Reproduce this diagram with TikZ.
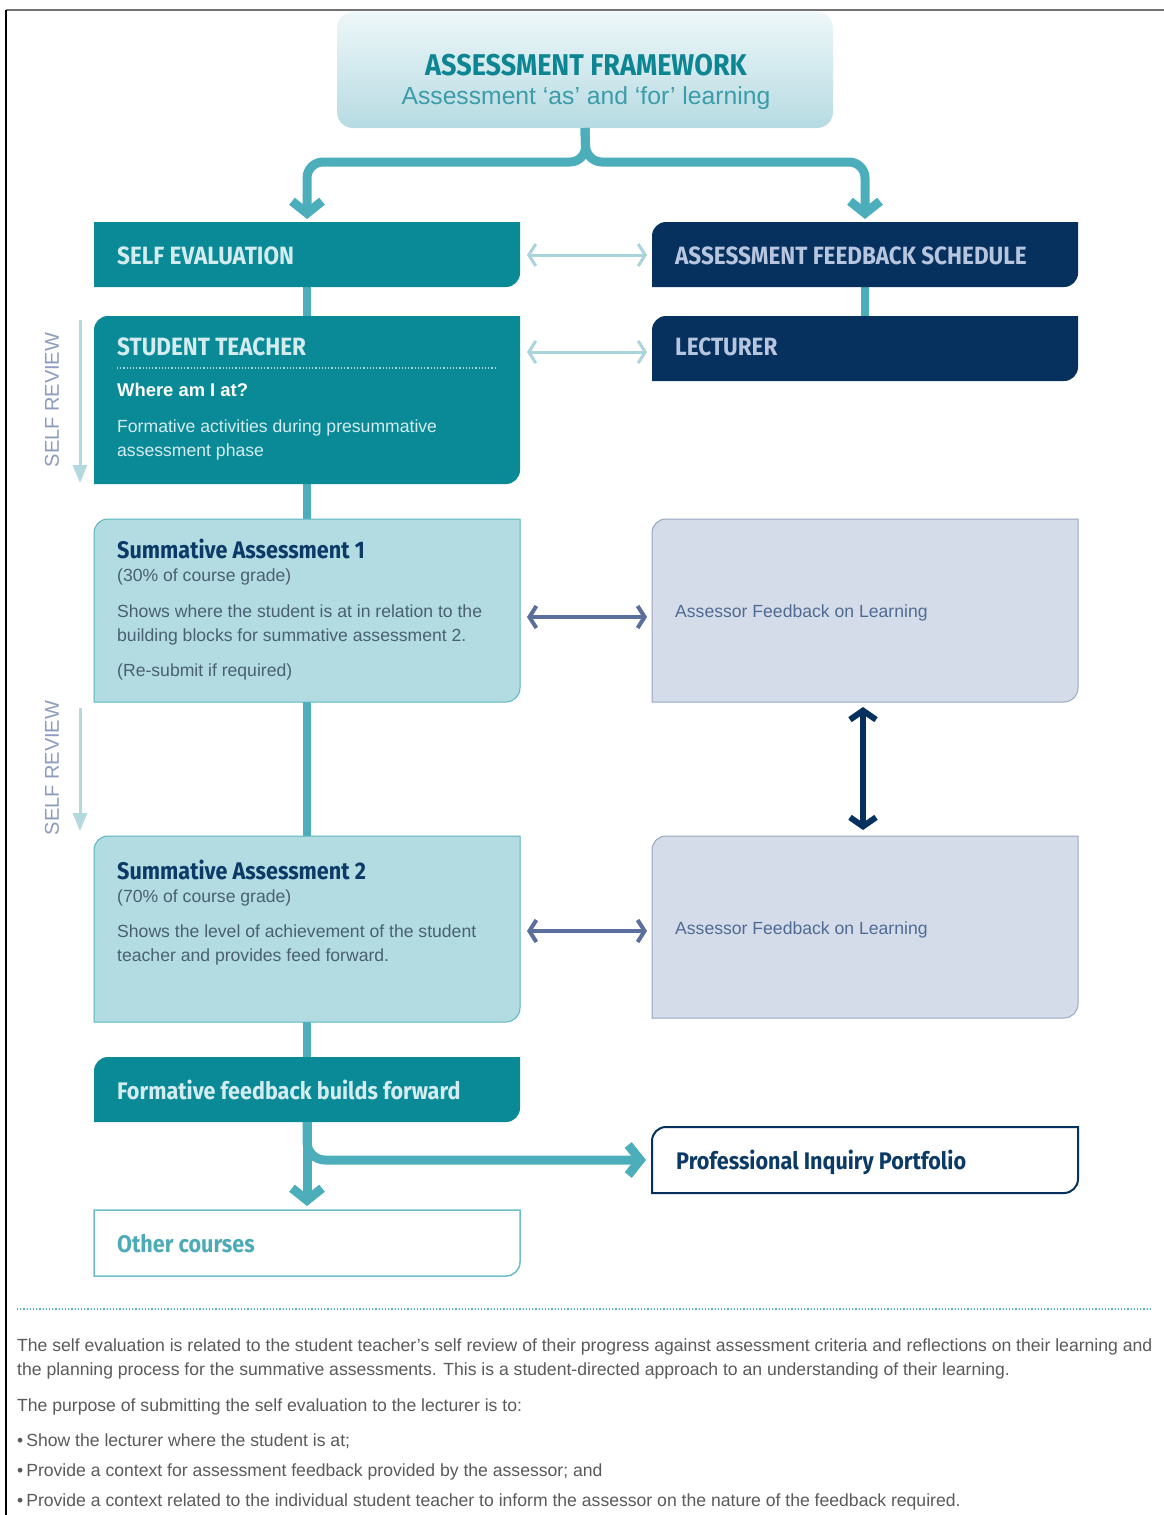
\documentclass[tikz,border=0pt]{standalone}
\usepackage{fontspec}
\setmainfont{Liberation Sans}
\newfontfamily\hf[FakeStretch=0.9]{Fira Sans}
\usetikzlibrary{arrows.meta}
\definecolor{tealbox}{HTML}{0A8A96}
\definecolor{navybox}{HTML}{06305E}
\definecolor{connteal}{HTML}{4BAEBA}
\definecolor{lbfill}{HTML}{B2DCE2}
\definecolor{lbborder}{HTML}{5DB5C0}
\definecolor{lvfill}{HTML}{D5DCE9}
\definecolor{lvborder}{HTML}{9AA7C2}
\definecolor{tealtxt}{HTML}{D4ECEF}
\definecolor{navytxt}{HTML}{B7C5DE}
\definecolor{midarr}{HTML}{5B6F9C}
\definecolor{lightarr}{HTML}{A9D4DB}
\definecolor{srtxt}{HTML}{8C9BBE}
\definecolor{srarr}{HTML}{B3D9DF}
\definecolor{sumtitle}{HTML}{0C3A67}
\definecolor{sumtxt}{HTML}{4A6072}
\definecolor{asstxt}{HTML}{4F6B93}
\definecolor{hdtop}{HTML}{EEF7F9}
\definecolor{hdbot}{HTML}{B6DBE2}
\definecolor{hdtitle}{HTML}{0E8592}
\definecolor{hdsub}{HTML}{3C9CA8}
\definecolor{octxt}{HTML}{4DABB7}
\definecolor{ocborder}{HTML}{6CBEC8}
\definecolor{paratxt}{HTML}{5A5A5A}
\newcommand\shapeSE[2]{\path[#1] (#2.north west) -- (#2.north east) -- ([yshift=14pt]#2.south east) arc[start angle=0,end angle=-90,radius=14pt] -- (#2.south west) -- cycle;}
\newcommand\shapeNWSE[2]{\path[#1] ([yshift=-14pt]#2.north west) arc[start angle=180,end angle=90,radius=14pt] -- (#2.north east) -- ([yshift=14pt]#2.south east) arc[start angle=0,end angle=-90,radius=14pt] -- (#2.south west) -- cycle;}
\begin{document}
\begin{tikzpicture}[x=1pt,y=-1pt,
  boxn/.style={shape=rectangle,inner sep=0pt,outer sep=0pt,draw=none,anchor=north west},
  wbox/.style={boxn,minimum width=426pt},
  ht/.style={font=\hf\bfseries\fontsize{25}{28}\selectfont,anchor=base west,inner sep=0pt},
  hm/.style={font=\hf\bfseries\fontsize{24}{27}\selectfont,anchor=base west,inner sep=0pt},
  bt/.style={font=\fontsize{17.6}{20}\selectfont,anchor=base west,inner sep=0pt},
  pt/.style={font=\fontsize{17.6}{20}\selectfont,anchor=base west,inner sep=0pt,text=paratxt},
  conn/.style={draw=connteal,line width=9pt},
  vline/.style={draw=connteal,line width=8pt},
  bigtip/.style={-{Straight Barb[length=12pt,width=30pt]}},
  lightdbl/.style={draw=lightarr,line width=3pt,{Straight Barb[length=7pt,width=22pt]}-{Straight Barb[length=7pt,width=22pt]}},
  middbl/.style={draw=midarr,line width=4pt,{Straight Barb[length=7pt,width=22pt]}-{Straight Barb[length=7pt,width=22pt]}},
  navydbl/.style={draw=navybox,line width=6pt,{Straight Barb[length=9pt,width=26pt]}-{Straight Barb[length=9pt,width=26pt]}},
  srarrow/.style={draw=srarr,line width=3pt,-{Triangle[length=18pt,width=14pt]}},
  srlabel/.style={font=\fontsize{20}{22}\selectfont,text=srtxt,rotate=90,inner sep=0pt}
]
\useasboundingbox (0,0) rectangle (1164,1515);
\fill[white] (0,0) rectangle (1164,1515);
% frame
\draw[draw=black!55,line width=2pt] (6,10) -- (1164,10);
\draw[draw=black,line width=1.5pt] (6,10) -- (6,1515);

% header
\node[boxn,minimum width=496pt,minimum height=116pt] (hdr) at (337,12) {};
\shade[top color=hdtop,bottom color=hdbot,rounded corners=16pt] (hdr.north west) rectangle (hdr.south east);
\node[font=\hf\bfseries\fontsize{30}{32}\selectfont,text=hdtitle,anchor=base,inner sep=0pt] (hdt) at (586,75) {ASSESSMENT FRAMEWORK};
\node[font=\fontsize{24.7}{27}\selectfont,text=hdsub,anchor=base,inner sep=0pt] (hds) at (586,104) {Assessment ‘as’ and ‘for’ learning};

% boxes left column
\node[wbox,minimum height=65pt] (se) at (94,222) {};
\node[wbox,minimum height=168pt] (st) at (94,316) {};
\node[wbox,minimum height=183pt] (sa1) at (94,519) {};
\node[wbox,minimum height=186pt] (sa2) at (94,836) {};
\node[wbox,minimum height=65pt] (ff) at (94,1057) {};
\node[wbox,minimum height=66pt] (oc) at (94,1210) {};
% right column
\node[wbox,minimum height=65pt] (afs) at (652,222) {};
\node[wbox,minimum height=65pt] (lec) at (652,316) {};
\node[wbox,minimum height=183pt] (af1) at (652,519) {};
\node[wbox,minimum height=182pt] (af2) at (652,836) {};
\node[wbox,minimum height=66pt] (pip) at (652,1127) {};

% connectors (under boxes)
\coordinate (fork) at (586,162);
\draw[conn,bigtip,rounded corners=16pt] (hdr.south) -- (fork) -| ([yshift=3pt]se.north);
\draw[conn,bigtip,rounded corners=16pt] (hdr.south) -- (fork) -| ([yshift=3pt]afs.north);
\draw[vline] (se.south) -- (st.north);
\draw[vline] (afs.south) -- (lec.north);
\draw[vline] (st.south) -- (sa1.north);
\draw[vline] (sa1.south) -- (sa2.north);
\draw[vline] (sa2.south) -- (ff.north);

% box shapes
\shapeSE{fill=tealbox}{se}
\shapeNWSE{fill=tealbox}{st}
\shapeNWSE{fill=lbfill,draw=lbborder,line width=1pt}{sa1}
\shapeNWSE{fill=lbfill,draw=lbborder,line width=1pt}{sa2}
\shapeNWSE{fill=tealbox}{ff}
\shapeSE{fill=white,draw=ocborder,line width=1.5pt}{oc}
\shapeNWSE{fill=navybox}{afs}
\shapeNWSE{fill=navybox}{lec}
\shapeNWSE{fill=lvfill,draw=lvborder,line width=1pt}{af1}
\shapeNWSE{fill=lvfill,draw=lvborder,line width=1pt}{af2}
\shapeNWSE{fill=white,draw=navybox,line width=2pt}{pip}

% texts
\node[ht,text=tealtxt] (set) at (117,264) {SELF EVALUATION};
\node[ht,text=navytxt] (afst) at (675,264) {ASSESSMENT FEEDBACK SCHEDULE};
\node[ht,text=tealtxt] (stt) at (117,355) {STUDENT TEACHER};
\node[ht,text=navytxt] (lect) at (675,355) {LECTURER};
\draw[draw=lightarr,line width=1.2pt,dotted] (117,368) -- (495,368);
\node[bt,text=white,font=\bfseries\fontsize{18.4}{20}\selectfont] (wh) at (117,396) {Where am I at?};
\node[bt,text=tealtxt] (fa1) at (117,432) {Formative activities during presummative};
\node[bt,text=tealtxt] (fa2) at (117,456) {assessment phase};

\node[hm,text=sumtitle] (s1t) at (117,558) {Summative Assessment 1};
\node[bt,text=sumtxt] (s1a) at (117,581) {(30\% of course grade)};
\node[bt,text=sumtxt] (s1b) at (117,617) {Shows where the student is at in relation to the};
\node[bt,text=sumtxt] (s1c) at (117,641) {building blocks for summative assessment 2.};
\node[bt,text=sumtxt] (s1d) at (117,676) {(Re-submit if required)};
\node[bt,text=asstxt] (a1t) at (675,617) {Assessor Feedback on Learning};

\node[hm,text=sumtitle] (s2t) at (117,879) {Summative Assessment 2};
\node[bt,text=sumtxt] (s2a) at (117,902) {(70\% of course grade)};
\node[bt,text=sumtxt] (s2b) at (117,937) {Shows the level of achievement of the student};
\node[bt,text=sumtxt] (s2c) at (117,961) {teacher and provides feed forward.};
\node[bt,text=asstxt] (a2t) at (675,934) {Assessor Feedback on Learning};

\node[hm,text=tealtxt] (fft) at (117,1099) {Formative feedback builds forward};
\node[hm,text=sumtitle] (pipt) at (676,1169) {Professional Inquiry Portfolio};
\node[hm,text=octxt] (oct) at (117,1252) {Other courses};

% horizontal arrows
\draw[lightdbl] ([xshift=7pt]se.east |- 0,255) -- ([xshift=-5pt]afs.west |- 0,255);
\draw[lightdbl] ([xshift=7pt]st.east |- 0,352) -- ([xshift=-5pt]lec.west |- 0,352);
\draw[middbl] ([xshift=7pt]sa1.east |- 0,617) -- ([xshift=-5pt]af1.west |- 0,617);
\draw[middbl] ([xshift=7pt]sa2.east |- 0,931) -- ([xshift=-5pt]af2.west |- 0,931);
\draw[navydbl] ([yshift=-5pt]af1.south -| 0:863pt) -- ([yshift=6pt]af2.north -| 0:863pt);

% bottom arrows
\draw[conn,bigtip] (ff.south) -- ([yshift=4pt]oc.north);
\draw[conn,bigtip,rounded corners=18pt] (ff.south) |- ([xshift=-6pt]pip.west);

% self review
\coordinate (sr1a) at (80,320);
\coordinate (sr1b) at (80,483);
\draw[srarrow] (sr1a) -- (sr1b);
\node[srlabel] (sr1) at (52,400) {SELF REVIEW};
\coordinate (sr2a) at (80,708);
\coordinate (sr2b) at (80,831);
\draw[srarrow] (sr2a) -- (sr2b);
\node[srlabel] (sr2) at (52,768) {SELF REVIEW};

% separator
\draw[draw=connteal,line width=1.2pt,dotted] (17,1309) -- (1152,1309);

% paragraph
\node[pt] (p1) at (17,1351) {The self evaluation is related to the student teacher’s self review of their progress against assessment criteria and reflections on their learning and};
\node[pt] (p2) at (17,1375) {the planning process for the summative assessments. This is a student-directed approach to an understanding of their learning.};
\node[pt] (p3) at (17,1411) {The purpose of submitting the self evaluation to the lecturer is to:};
\node[pt] (p4) at (17,1446) {•\,Show the lecturer where the student is at;};
\node[pt] (p5) at (17,1476) {•\,Provide a context for assessment feedback provided by the assessor; and};
\node[pt] (p6) at (17,1506) {•\,Provide a context related to the individual student teacher to inform the assessor on the nature of the feedback required.};
\end{tikzpicture}
\end{document}
